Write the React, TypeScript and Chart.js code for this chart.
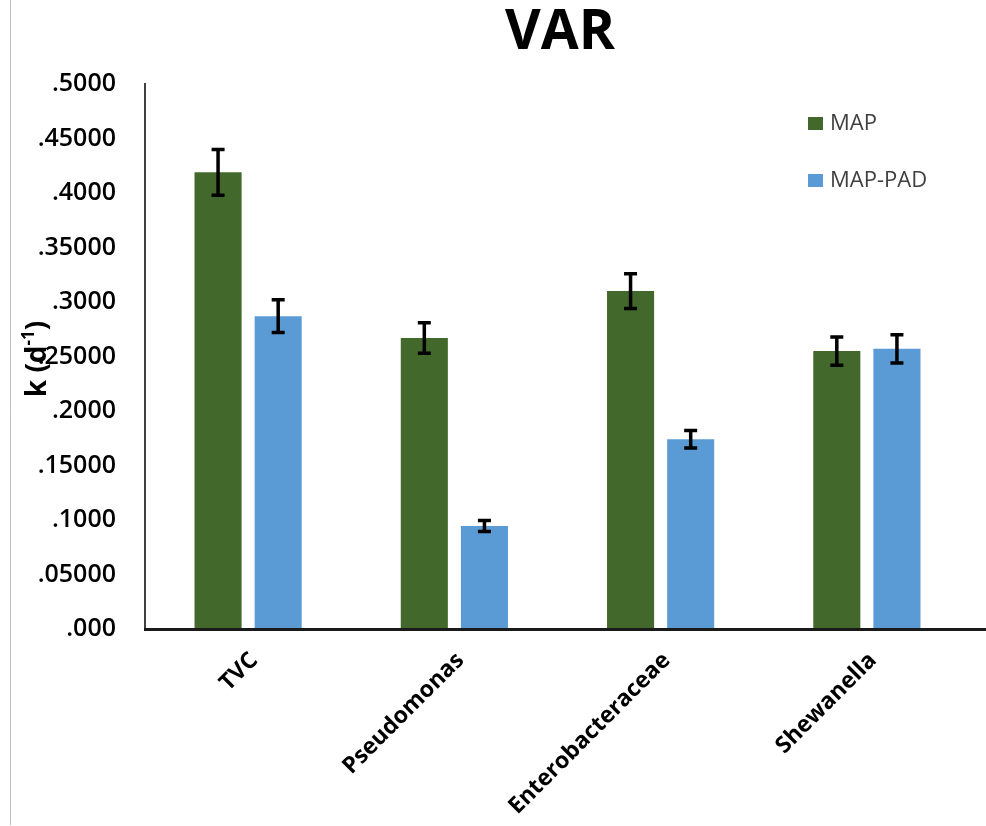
import React, { useEffect, useRef } from "react";
import { Chart, registerables } from "chart.js";

Chart.register(...registerables);

const titleText = "VAR";
const categories = ["TVC", "Pseudomonas", "Enterobacteraceae", "Shewanella"];
const seriesNames = ["MAP", "MAP-PAD"];
const mapValues = [0.419, 0.267, 0.31, 0.255];
const mapErrors = [0.021, 0.014, 0.016, 0.013];
const mapPadValues = [0.287, 0.0945, 0.174, 0.257];
const mapPadErrors = [0.015, 0.005, 0.008, 0.013];
const yTickLabels = [".000", ".05000", ".1000", ".15000", ".2000", ".25000", ".3000", ".35000", ".4000", ".45000", ".5000"];
const colors = ["#43682B", "#5B9BD5"];
const FONT = "'Open Sans', 'DejaVu Sans', sans-serif";

const errorSets = [mapErrors, mapPadErrors];

const decorPlugin = {
  id: "decor",
  afterDatasetsDraw(chart: any) {
    const ctx = chart.ctx;
    const y = chart.scales.y;
    const ca = chart.chartArea;
    ctx.save();
    // error bars
    ctx.strokeStyle = "#000";
    ctx.lineWidth = 3.5;
    chart.data.datasets.forEach((ds: any, i: number) => {
      const meta = chart.getDatasetMeta(i);
      const errs = errorSets[i];
      meta.data.forEach((bar: any, j: number) => {
        const v = ds.data[j];
        const e = errs[j];
        const yt = y.getPixelForValue(v + e);
        const yb = y.getPixelForValue(v - e);
        const x = bar.x;
        ctx.beginPath();
        ctx.moveTo(x, yt);
        ctx.lineTo(x, yb);
        ctx.moveTo(x - 6.5, yt);
        ctx.lineTo(x + 6.5, yt);
        ctx.moveTo(x - 6.5, yb);
        ctx.lineTo(x + 6.5, yb);
        ctx.stroke();
      });
    });
    // x axis line, running to the right edge
    ctx.strokeStyle = "#1a1a1a";
    ctx.lineWidth = 3;
    ctx.beginPath();
    ctx.moveTo(ca.left - 1, ca.bottom + 0.5);
    ctx.lineTo(chart.width, ca.bottom + 0.5);
    ctx.stroke();
    // left frame line
    ctx.strokeStyle = "#bfbfbf";
    ctx.lineWidth = 1;
    ctx.beginPath();
    ctx.moveTo(10.5, 0);
    ctx.lineTo(10.5, 825);
    ctx.stroke();
    // legend
    ctx.textBaseline = "middle";
    ctx.textAlign = "left";
    ctx.font = `400 22px ${FONT}`;
    seriesNames.forEach((name, i) => {
      const sx = ca.right - 162;
      const sy = ca.top + 33 + i * 57;
      ctx.fillStyle = colors[i];
      ctx.fillRect(sx, sy, 15, 13);
      ctx.fillStyle = "#404040";
      ctx.fillText(name, sx + 22, sy + 7);
    });
    // title
    ctx.fillStyle = "#000";
    ctx.textAlign = "center";
    ctx.textBaseline = "alphabetic";
    ctx.font = `700 55px ${FONT}`;
    ctx.fillText(titleText, 560, 49);
    // y axis title with superscript
    ctx.translate(46, 359);
    ctx.rotate(-Math.PI / 2);
    const mainFont = `700 28px ${FONT}`;
    const supFont = `700 17px ${FONT}`;
    ctx.textAlign = "left";
    ctx.font = mainFont;
    const p1 = "k (d";
    const p3 = ")";
    const w1 = ctx.measureText(p1).width;
    const w3 = ctx.measureText(p3).width;
    ctx.font = supFont;
    const w2 = ctx.measureText("-1").width;
    const total = w1 + w2 + w3;
    let xx = -total / 2;
    ctx.font = mainFont;
    ctx.fillText(p1, xx, 0);
    xx += w1;
    ctx.font = supFont;
    ctx.fillText("-1", xx, -12);
    xx += w2;
    ctx.font = mainFont;
    ctx.fillText(p3, xx, 0);
    ctx.restore();
  },
};

export default function App() {
  const ref = useRef<HTMLCanvasElement | null>(null);
  useEffect(() => {
    if (!ref.current) return;
    const chart = new Chart(ref.current, {
      type: "bar",
      data: {
        labels: categories,
        datasets: [
          {
            label: seriesNames[0],
            data: mapValues,
            backgroundColor: colors[0],
            categoryPercentage: 0.583,
            barPercentage: 0.783,
          },
          {
            label: seriesNames[1],
            data: mapPadValues,
            backgroundColor: colors[1],
            categoryPercentage: 0.583,
            barPercentage: 0.783,
          },
        ],
      },
      options: {
        animation: false,
        responsive: false,
        maintainAspectRatio: false,
        layout: { padding: { left: 2, right: 16, top: 84, bottom: 0 } },
        plugins: {
          legend: { display: false },
          title: { display: false },
          tooltip: { enabled: false },
        },
        scales: {
          x: {
            grid: { display: false, drawTicks: false },
            border: { display: false },
            ticks: {
              color: "#000",
              font: { family: FONT, size: 23, weight: "bold" },
              maxRotation: 45,
              minRotation: 45,
              padding: 18,
              labelOffset: 6,
              autoSkip: false,
            },
            afterFit(scale: any) {
              scale.height = 197;
            },
          },
          y: {
            min: 0,
            max: 0.5,
            grid: { display: false, drawTicks: false },
            border: { display: true, color: "#404040", width: 2 },
            ticks: {
              stepSize: 0.05,
              color: "#000",
              padding: 29,
              font: { family: FONT, size: 25, weight: 600 },
              callback: (_v: any, i: number) => yTickLabels[i],
            },
            afterFit(scale: any) {
              scale.width = 143;
            },
          },
        },
      },
      plugins: [decorPlugin],
    });
    return () => chart.destroy();
  }, []);
  return (
    <div style={{ position: "fixed", left: 0, top: 0, width: 986, height: 826, background: "#fff" }}>
      <canvas ref={ref} width={986} height={826} style={{ display: "block", width: 986, height: 826 }} />
    </div>
  );
}
